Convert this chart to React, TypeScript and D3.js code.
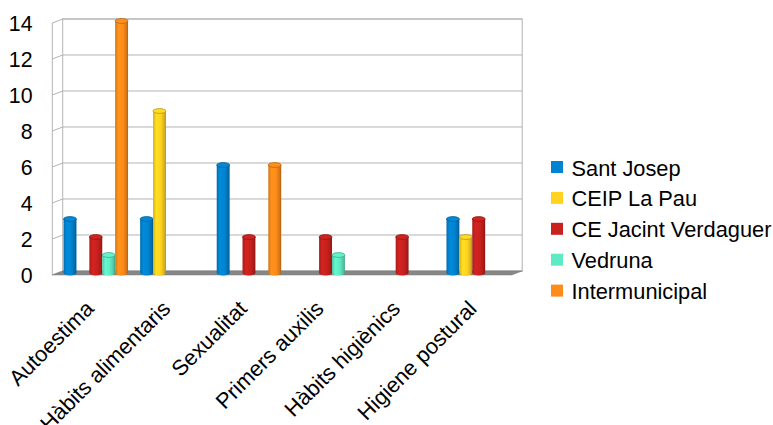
import React from "react";
import * as d3 from "d3";

const categories = ["Autoestima", "Hàbits alimentaris", "Sexualitat", "Primers auxilis", "Hàbits higiènics", "Higiene postural"];
const seriesNames = ["Sant Josep", "CEIP La Pau", "CE Jacint Verdaguer", "Vedruna", "Intermunicipal"];
const seriesColors = ["#0084d1", "#ffd320", "#c9211e", "#5eebc4", "#ff8c1a"];
const santJosep = [3, 3, 6, 0, 0, 3];
const ceipLaPau = [0, 9, 0, 0, 0, 2];
const ceJacint = [2, 0, 2, 2, 2, 3];
const vedruna = [1, 0, 0, 1, 0, 0];
const intermunicipal = [14, 0, 6, 0, 0, 0];
const seriesValues = [santJosep, ceipLaPau, ceJacint, vedruna, intermunicipal];
const yTicks = [0, 2, 4, 6, 8, 10, 12, 14];

const FONT = "'Liberation Sans', Arial, sans-serif";
const FS = 21.33;
const FS_LEG = 21.8;

export default function App() {
  const W = 773, H = 425;
  const left = 52.3, plotW = 459.5;
  const ddx = 10.4, ddy = -4;
  const frontBase = 275;
  const yFront = d3.scaleLinear().domain([0, 14]).range([frontBase, frontBase - 14 * 18]);
  const yBack = (v: number) => yFront(v) + ddy;
  const yMid = (v: number) => yFront(v) + ddy / 2;

  const x0 = d3.scaleBand<string>().domain(categories).range([left + ddx / 2, left + ddx / 2 + plotW]).paddingInner(0.158).paddingOuter(0.079);
  const x1 = d3.scaleBand<number>().domain(d3.range(seriesNames.length)).range([0, x0.bandwidth()]);
  const xFrontCenter = d3.scaleBand<string>().domain(categories).range([left, left + plotW]);

  const bw = x1.bandwidth();
  const ry = 2.4;
  const grid = "#b3b3b3";

  return (
    <svg width={W} height={H} style={{ position: "absolute", left: 0, top: 0, background: "#fff" }}>
      <defs>
        {seriesColors.map((c, i) => {
          const col = d3.color(c)!;
          return (
            <linearGradient key={i} id={`g${i}`} x1="0" x2="1" y1="0" y2="0">
              <stop offset="0%" stopColor={col.darker(0.5).formatHex()} />
              <stop offset="25%" stopColor={col.brighter(0.15).formatHex()} />
              <stop offset="60%" stopColor={c} />
              <stop offset="88%" stopColor={col.darker(0.5).formatHex()} />
              <stop offset="100%" stopColor={col.darker(1.1).formatHex()} />
            </linearGradient>
          );
        })}
      </defs>
      {/* back wall */}
      <rect x={left + ddx} y={yBack(14)} width={plotW} height={yBack(0) - yBack(14)} fill="#fff" stroke={grid} strokeWidth={1} />
      {yTicks.map((t) => (
        <g key={t}>
          <line x1={left + ddx} x2={left + ddx + plotW} y1={yBack(t)} y2={yBack(t)} stroke={grid} strokeWidth={1} />
          <line x1={left} x2={left + ddx} y1={yFront(t)} y2={yBack(t)} stroke={grid} strokeWidth={1} />
        </g>
      ))}
      {/* left wall */}
      <line x1={left} x2={left} y1={yFront(14)} y2={yFront(0)} stroke={grid} strokeWidth={1} />
      {/* floor */}
      <polygon
        points={`${left},${frontBase} ${left + plotW},${frontBase} ${left + plotW + ddx},${frontBase + ddy} ${left + ddx},${frontBase + ddy}`}
        fill="#878787"
        stroke="#7a7a7a"
        strokeWidth={0.5}
      />
      {/* y tick labels */}
      {yTicks.map((t) => (
        <text key={t} x={32.5} y={yFront(t) + 1} textAnchor="end" dominantBaseline="central" fontFamily={FONT} fontSize={FS} fill="#000">
          {t}
        </text>
      ))}
      {/* bars */}
      {categories.map((cat, ci) => (
        <g key={cat} transform={`translate(${x0(cat)},0)`}>
          {seriesValues.map((vals, si) => {
            const v = vals[ci];
            if (!v) return null;
            const bx = x1(si)!;
            const top = yMid(v);
            const base = yMid(0);
            const col = d3.color(seriesColors[si])!;
            return (
              <g key={si}>
                <path
                  d={`M${bx},${top} L${bx},${base} A${bw / 2},${ry} 0 0 0 ${bx + bw},${base} L${bx + bw},${top} Z`}
                  fill={`url(#g${si})`}
                />
                <ellipse cx={bx + bw / 2} cy={top} rx={bw / 2} ry={ry} fill={col.brighter(0.1).formatHex()} stroke={col.darker(0.9).formatHex()} strokeWidth={0.8} />
              </g>
            );
          })}
        </g>
      ))}
      {/* category labels */}
      {categories.map((cat) => {
        const cx = xFrontCenter(cat)! + xFrontCenter.bandwidth() / 2 + 4.5;
        const cy = 310;
        return (
          <text key={cat} transform={`translate(${cx},${cy}) rotate(-45)`} textAnchor="end" fontFamily={FONT} fontSize={FS_LEG} fill="#000">
            {cat}
          </text>
        );
      })}
      {/* legend */}
      {seriesNames.map((n, i) => {
        const ly = 167 + i * 30.9;
        return (
          <g key={n}>
            <rect x={551} y={ly - 6} width={12} height={12} fill={seriesColors[i]} />
            <text x={571.5} y={ly + 1} dominantBaseline="central" fontFamily={FONT} fontSize={FS_LEG} fill="#000">
              {n}
            </text>
          </g>
        );
      })}
    </svg>
  );
}
